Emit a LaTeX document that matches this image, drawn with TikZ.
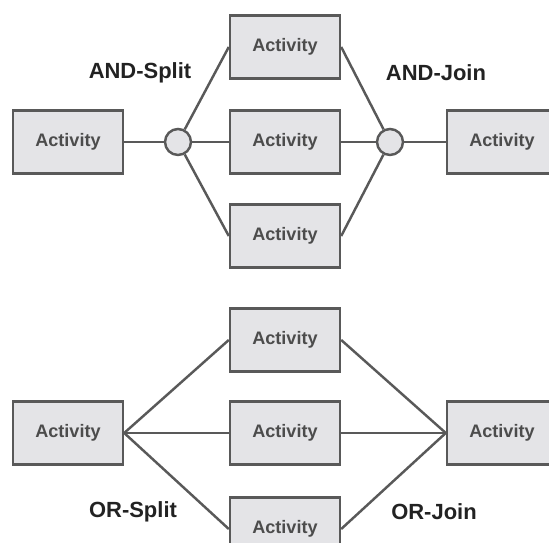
\documentclass[tikz,border=0pt]{standalone}
\usepackage{fontspec}
\setmainfont{Liberation Sans}
\usepackage{xcolor}
\usepackage{tikz}
\usetikzlibrary{positioning}

\definecolor{boxfill}{HTML}{E4E4E7}
\definecolor{edgegray}{HTML}{595959}
\definecolor{textgray}{HTML}{4C4C4C}
\definecolor{labeldark}{HTML}{222222}

\begin{document}
\begin{tikzpicture}[
    x=0.02cm, y=-0.02cm,
    every node/.style={font=\bfseries},
    box/.style={draw=edgegray, fill=boxfill, line width=1.4pt, minimum width=2.2cm, minimum height=1.26cm, text=textgray, font=\bfseries\fontsize{10.3}{12}\selectfont},
    gate/.style={circle, draw=edgegray, fill=boxfill, line width=1.4pt, minimum size=0.52cm, inner sep=0pt},
    tag/.style={text=labeldark, font=\bfseries\fontsize{12.5}{15}\selectfont},
    wire/.style={draw=edgegray, line width=1.4pt}
]
\useasboundingbox (0,0) rectangle (549,543);
\clip (0,0) rectangle (549,543);

% AND
\node[box] (andin)  at (68,142)  {Activity};
\node[box] (andtop) at (285,47)  {Activity};
\node[box] (andmid) at (285,142) {Activity};
\node[box] (andbot) at (285,236) {Activity};
\node[box] (andout) at (502,142) {Activity};
\node[gate] (split) at (178,142) {};
\node[gate] (join)  at (390,142) {};
\node[tag] (andsplitlbl) at (140,73) {AND-Split};
\node[tag] (andjoinlbl)  at (436,73) {AND-Join};

\draw[wire] (andin) -- (split);
\draw[wire] (split) -- (andtop.west);
\draw[wire] (split) -- (andmid.west);
\draw[wire] (split) -- (andbot.west);
\draw[wire] (andtop.east) -- (join);
\draw[wire] (andmid.east) -- (join);
\draw[wire] (andbot.east) -- (join);
\draw[wire] (join) -- (andout);

% OR
\node[box] (orin)  at (68,433)  {Activity};
\node[box] (ortop) at (285,340) {Activity};
\node[box] (ormid) at (285,433) {Activity};
\node[box] (orbot) at (285,529) {Activity};
\node[box] (orout) at (502,433) {Activity};
\node[tag] (orsplitlbl) at (133,512) {OR-Split};
\node[tag] (orjoinlbl)  at (434,512) {OR-Join};

\draw[wire] (orin.east) -- (ortop.west);
\draw[wire] (orin.east) -- (ormid.west);
\draw[wire] (orin.east) -- (orbot.west);
\draw[wire] (ortop.east) -- (orout.west);
\draw[wire] (ormid.east) -- (orout.west);
\draw[wire] (orbot.east) -- (orout.west);

\end{tikzpicture}
\end{document}
